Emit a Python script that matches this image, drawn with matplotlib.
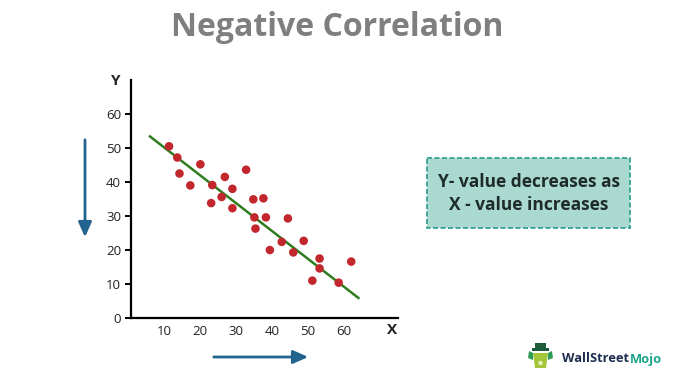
import matplotlib
matplotlib.use("Agg")
import matplotlib.pyplot as plt
from matplotlib.patches import Rectangle, Polygon, Circle

# ---- data ----
x_vals = [11.4, 13.7, 14.3, 17.3, 20.1, 23.4, 23.1, 26.9, 26.0, 29.0, 29.0, 32.8,
          34.8, 37.6, 35.1, 35.4, 38.3, 44.4, 39.4, 42.7, 45.9, 48.8, 53.2, 53.2,
          51.2, 58.5, 62.0]
y_vals = [50.4, 47.1, 42.4, 38.9, 45.1, 39.0, 33.7, 41.4, 35.5, 37.9, 32.2, 43.5,
          34.8, 35.1, 29.5, 26.2, 29.5, 29.2, 19.9, 22.3, 19.2, 22.6, 17.4, 14.5,
          10.9, 10.3, 16.5]
trend_x = [6.1, 64.0]
trend_y = [53.3, 5.8]
x_ticks = [10, 20, 30, 40, 50, 60]
y_ticks = [0, 10, 20, 30, 40, 50, 60]

W, H = 676, 380
plt.rcParams['font.family'] = ['Open Sans', 'DejaVu Sans']
fig = plt.figure(figsize=(W / 100, H / 100), dpi=100)
fig.patch.set_facecolor('white')

# overlay in pixel coordinates (y downwards)
ov = fig.add_axes([0, 0, 1, 1], zorder=0)
ov.set_xlim(0, W)
ov.set_ylim(H, 0)
ov.axis('off')

# main axes
left, right, top, bottom = 130.7, 397.7, 80.0, 317.7
ax = fig.add_axes([left / W, (H - bottom) / H, (right - left) / W, (bottom - top) / H], zorder=2)
ax.set_facecolor('none')
ax.set_xlim(0.75, 74.9)
ax.set_ylim(0, 69.9)
for s in ['top', 'right']:
    ax.spines[s].set_visible(False)
for s in ['left', 'bottom']:
    ax.spines[s].set_linewidth(1.6)
    ax.spines[s].set_color('black')
ax.set_xticks(x_ticks)
ax.set_yticks(y_ticks)
ax.tick_params(axis='x', length=0, pad=5, labelsize=9.5, labelcolor='#222222')
ax.tick_params(axis='y', length=4, width=1.4, pad=3, labelsize=9.5, labelcolor='#222222')

ax.plot(trend_x, trend_y, color='#2f7d1e', lw=1.8, zorder=2)
ax.scatter(x_vals, y_vals, s=38, color='#c1272d', edgecolors='none', zorder=3)

# axis letters
ov.text(116, 81, 'Y', fontsize=11, fontweight='bold', color='#222222', ha='center', va='center')
ov.text(392, 330, 'X', fontsize=11, fontweight='bold', color='#222222', ha='center', va='center')

# title
ov.text(337, 27, 'Negative Correlation', fontsize=23, fontweight='bold', color='#7f7f7f',
        ha='center', va='center')

# arrows
arrow_c = '#22638f'
ov.annotate('', xy=(85, 240), xytext=(85, 137),
            arrowprops=dict(arrowstyle='-|>,head_length=0.9,head_width=0.4', color=arrow_c, lw=2))
ov.annotate('', xy=(311, 357), xytext=(211, 357),
            arrowprops=dict(arrowstyle='-|>,head_length=0.9,head_width=0.4', color=arrow_c, lw=2))

# text box
ov.add_patch(Rectangle((427, 158), 203, 70, facecolor='#aad9cf', edgecolor='#2a9c8c',
                       lw=1.2, linestyle=(0, (3, 1.5))))
ov.text(528.5, 182, 'Y- value decreases as', fontsize=12.5, fontweight='bold',
        color='#1e2b2b', ha='center', va='center')
ov.text(528.5, 205, 'X - value increases', fontsize=12.5, fontweight='bold',
        color='#1e2b2b', ha='center', va='center')

# logo icon
ov.add_patch(Rectangle((535, 343), 11, 6, facecolor='#1d5b3a', edgecolor='none'))
ov.add_patch(Rectangle((532, 348), 17, 2.5, facecolor='#1d5b3a', edgecolor='none'))
ov.add_patch(Polygon([(533, 353), (548, 353), (546, 368), (535, 368)], closed=True,
                     facecolor='#a4c639', edgecolor='none'))
ov.add_patch(Polygon([(529, 351), (533, 353), (533, 360), (528, 358)], closed=True,
                     facecolor='#2e9b57', edgecolor='none'))
ov.add_patch(Polygon([(552, 351), (548, 353), (548, 360), (553, 358)], closed=True,
                     facecolor='#2e9b57', edgecolor='none'))
ov.add_patch(Circle((540.5, 363), 2.2, facecolor='#e8f0c0', edgecolor='none'))
t1 = ov.text(562, 359, 'WallStreet', fontsize=9.3, fontweight='bold', color='#1c2d4f',
             ha='left', va='center')
fig.canvas.draw()
bb = t1.get_window_extent(renderer=fig.canvas.get_renderer())
x_end = bb.x1  # display pixels == figure pixels at dpi 100
ov.text(x_end + 0.5, 359, 'Mojo', fontsize=9.3, fontweight='bold', color='#1aa58c',
        ha='left', va='center')

fig.savefig('out.png', dpi=100, facecolor='white')
